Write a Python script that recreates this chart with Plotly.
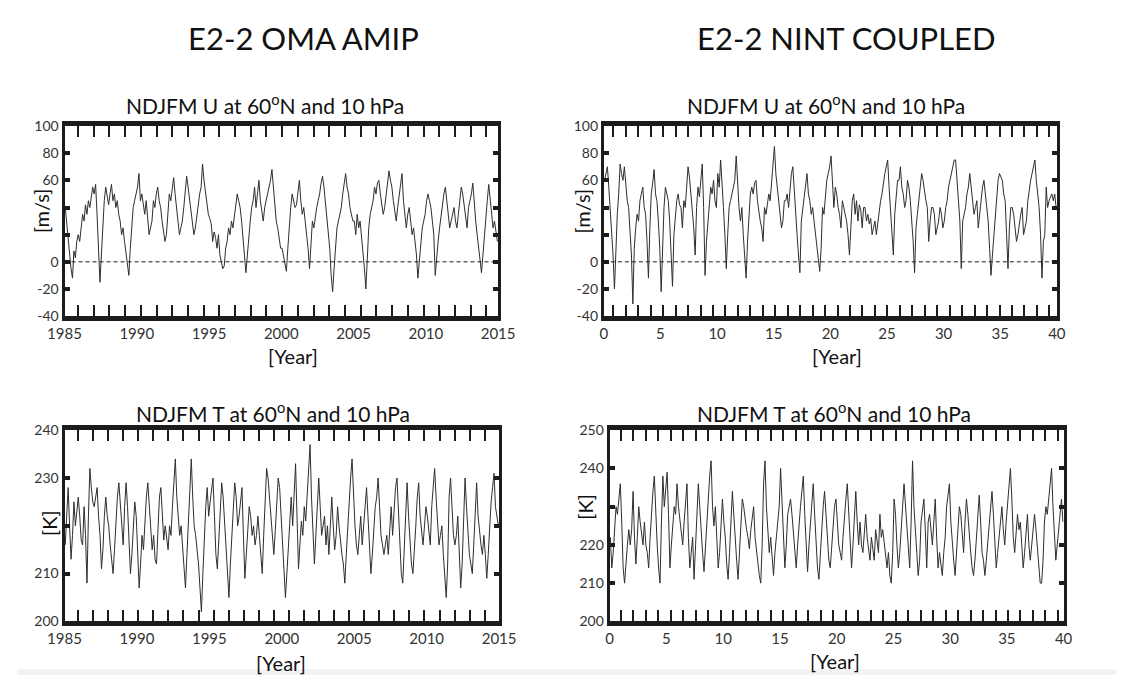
import plotly.graph_objects as go

# ---------------- data ----------------
# AMIP: 30 NDJFM winters 1985-2014, 10 samples per winter
u_amip = [
    40, 28, 15, 2, -5, -12, 8, 3, 15, 20,
    15, 25, 35, 30, 42, 35, 45, 40, 50, 55,
    50, 57, 35, 10, -15, 5, 30, 45, 55, 48,
    42, 50, 57, 45, 50, 40, 45, 35, 30, 20,
    25, 15, 5, -5, -10, 10, 30, 40, 45, 50,
    55, 65, 45, 50, 40, 35, 45, 30, 20, 25,
    30, 45, 40, 50, 55, 45, 40, 30, 20, 15,
    20, 35, 50, 45, 55, 62, 50, 40, 25, 20,
    25, 30, 40, 50, 63, 55, 45, 35, 28, 20,
    25, 35, 40, 50, 55, 72, 60, 50, 40, 35,
    32, 28, 15, 22, 18, 10, 20, 5, 0, -5,
    -3, 10, 15, 25, 20, 30, 25, 35, 45, 50,
    45, 40, 30, 15, 0, -8, 5, 20, 30, 40,
    45, 55, 40, 50, 60, 45, 35, 30, 40, 45,
    50, 55, 60, 68, 55, 45, 30, 25, 15, 10,
    10, 5, -2, -7, 10, 30, 40, 50, 45, 40,
    42, 50, 60, 45, 35, 40, 30, 25, 10, -5,
    15, 30, 25, 35, 40, 45, 50, 58, 63, 55,
    45, 35, 25, 10, -10, -22, -5, 10, 25, 30,
    35, 40, 50, 58, 65, 55, 50, 40, 35, 30,
    30, 20, 35, 25, 30, 20, 10, -5, -20, 10,
    25, 35, 40, 45, 55, 50, 58, 60, 50, 40,
    35, 40, 50, 58, 67, 60, 55, 45, 35, 30,
    40, 50, 60, 65, 45, 35, 25, 35, 40, 30,
    20, 25, 15, 5, -12, 0, 15, 25, 30, 35,
    45, 50, 45, 40, 30, 20, -10, 5, 15, 25,
    35, 40, 50, 55, 45, 35, 25, 30, 35, 40,
    30, 25, 35, 45, 55, 50, 40, 30, 25, 40,
    45, 50, 58, 40, 30, 20, 10, 0, -8, 5,
    20, 35, 45, 57, 45, 35, 25, 30, 20, 15,
]
t_amip = [
    216, 222, 228, 220, 213, 218, 225, 220, 223, 226,
    222, 217, 216, 224, 218, 208, 222, 232, 228, 225,
    224, 226, 228, 222, 218, 211, 215, 222, 226, 222,
    220, 216, 213, 210, 215, 222, 226, 229, 225, 220,
    216, 224, 229, 224, 215, 210, 214, 220, 225, 222,
    214, 207, 212, 218, 215, 222, 226, 229, 224, 218,
    215, 218, 213, 212, 218, 226, 228, 222, 217, 220,
    218, 215, 220, 218, 224, 230, 234, 226, 222, 218,
    220, 216, 210, 207, 214, 220, 228, 234, 226, 220,
    218, 215, 212, 207, 202, 210, 218, 224, 228, 222,
    225, 228, 230, 222, 214, 211, 218, 224, 229, 226,
    220, 214, 210, 205, 212, 218, 224, 229, 226, 220,
    222, 226, 228, 218, 209, 214, 220, 224, 222, 218,
    220, 216, 218, 222, 218, 214, 210, 218, 226, 232,
    230, 226, 220, 216, 214, 219, 224, 230, 228, 222,
    216, 210, 205, 210, 216, 222, 226, 220, 228, 233,
    222, 211, 216, 221, 218, 224, 221, 226, 230, 237,
    226, 218, 212, 218, 224, 230, 224, 218, 220, 222,
    216, 220, 214, 222, 226, 220, 215, 218, 224, 220,
    216, 214, 212, 208, 214, 220, 226, 230, 234, 226,
    220, 216, 214, 218, 222, 216, 220, 224, 228, 222,
    214, 210, 214, 220, 224, 226, 230, 224, 218, 216,
    214, 216, 218, 214, 220, 224, 218, 224, 228, 230,
    224, 216, 210, 208, 216, 224, 229, 222, 216, 212,
    210, 214, 220, 226, 229, 222, 218, 216, 220, 224,
    222, 218, 216, 224, 228, 232, 226, 220, 216, 218,
    220, 214, 209, 205, 212, 226, 230, 224, 218, 216,
    218, 222, 214, 207, 212, 220, 230, 224, 218, 214,
    212, 210, 216, 224, 229, 222, 218, 216, 214, 218,
    214, 209, 214, 220, 225, 228, 231, 224, 222, 220,
]
# NINT coupled: 40 model winters, 8 samples per winter
u_nint = [
    60, 65, 70, 55, 40, 25, 5, -20,
    15, 35, 50, 72, 65, 60, 70, 55,
    45, 40, 25, 5, -31, 10, 25, 35,
    30, 45, 50, 55, 40, 35, 15, -12,
    25, 50, 58, 68, 50, 45, 30, 10,
    -22, 20, 40, 55, 50, 45, 30, 0,
    -18, 20, 35, 45, 50, 42, 40, 25,
    45, 40, 55, 70, 62, 50, 35, 25,
    5, 40, 55, 48, 60, 72, 40, -10,
    15, 30, 45, 55, 50, 60, 45, 40,
    65, 55, 75, 60, 40, 20, -5, 20,
    40, 45, 50, 55, 60, 78, 55, 40,
    30, 40, 20, 5, -12, 15, 30, 50,
    55, 50, 58, 60, 45, 35, 30, 25,
    15, 40, 35, 42, 50, 45, 60, 70,
    85, 65, 55, 40, 35, 25, 30, 45,
    45, 50, 40, 55, 65, 70, 50, 40,
    20, 5, -8, 30, 40, 50, 55, 65,
    50, 45, 35, 40, 30, 20, 15, 5,
    -7, 10, 40, 35, 50, 60, 65, 70,
    78, 60, 40, 55, 50, 40, 35, 25,
    45, 40, 35, 30, 20, 5, 25, 45,
    50, 35, 45, 30, 42, 38, 25, 40,
    40, 30, 35, 28, 32, 20, 25, 30,
    20, 30, 35, 45, 50, 60, 65, 70,
    75, 55, 40, 25, 5, 35, 50, 60,
    60, 70, 55, 50, 40, 45, 60, 55,
    45, 30, 15, -8, 25, 35, 45, 60,
    65, 60, 50, 45, 40, 15, 30, 40,
    40, 35, 20, 25, 30, 40, 35, 25,
    30, 40, 45, 55, 60, 65, 70, 75,
    75, 60, 45, 30, -5, 30, 35, 40,
    50, 55, 65, 55, 45, 35, 40, 45,
    25, 35, 50, 55, 60, 50, 40, 30,
    10, -10, 5, 20, 35, 50, 60, 65,
    62, 60, 50, 45, 20, -5, 25, 40,
    40, 35, 25, 15, 20, 30, 35, 40,
    20, 25, 30, 45, 55, 60, 65, 70,
    75, 60, 50, 40, 20, -12, 15, 20,
    55, 40, 45, 48, 50, 45, 50, 40,
]
t_nint = [
    222, 214, 218, 226, 230, 228, 232, 236,
    226, 214, 210, 216, 220, 224, 220, 224,
    234, 222, 215, 222, 230, 226, 222, 220,
    226, 220, 218, 214, 222, 230, 234, 238,
    228, 220, 214, 210, 226, 238, 230, 234,
    239, 228, 214, 220, 225, 230, 228, 236,
    230, 226, 222, 220, 226, 232, 236, 222,
    214, 218, 222, 211, 220, 228, 236, 230,
    223, 218, 213, 220, 225, 232, 238, 242,
    230, 225, 230, 222, 214, 218, 226, 232,
    226, 222, 215, 211, 218, 226, 234, 228,
    220, 216, 211, 218, 225, 232, 230, 226,
    224, 222, 219, 224, 228, 230, 222, 218,
    214, 212, 210, 220, 236, 242, 230, 222,
    218, 222, 216, 212, 218, 222, 226, 230,
    240, 230, 222, 214, 220, 228, 230, 232,
    228, 224, 220, 214, 220, 226, 230, 234,
    238, 228, 220, 213, 220, 226, 232, 236,
    228, 220, 214, 211, 218, 226, 230, 234,
    228, 224, 216, 214, 220, 226, 230, 232,
    224, 220, 218, 216, 222, 228, 232, 236,
    228, 222, 214, 220, 228, 234, 226, 220,
    226, 220, 218, 224, 228, 222, 218, 216,
    222, 219, 216, 224, 220, 218, 228, 222,
    224, 220, 216, 214, 218, 212, 210, 218,
    232, 228, 220, 214, 218, 226, 230, 236,
    230, 224, 220, 214, 226, 242, 230, 222,
    218, 212, 216, 226, 230, 232, 224, 214,
    226, 228, 224, 220, 226, 232, 222, 214,
    218, 214, 212, 218, 222, 230, 234, 236,
    226, 220, 216, 212, 218, 224, 230, 228,
    224, 218, 226, 232, 228, 222, 218, 214,
    212, 216, 222, 228, 233, 226, 218, 216,
    212, 216, 220, 226, 230, 234, 228, 222,
    214, 218, 222, 226, 230, 224, 220, 226,
    230, 236, 240, 232, 222, 218, 224, 228,
    224, 226, 220, 214, 218, 222, 228, 220,
    216, 220, 224, 228, 224, 220, 214, 210,
    210, 216, 226, 230, 228, 232, 236, 240,
    230, 222, 216, 220, 224, 228, 232, 226,
]

amip_start, amip_end = 1985, 2015
nint_start, nint_end = 0, 40
amip_per_year = 10
nint_per_year = 8

amip_xlabels = [1985, 1990, 1995, 2000, 2005, 2010, 2015]
nint_xlabels = [0, 5, 10, 15, 20, 25, 30, 35, 40]
# y tick marks, and the subset of them that carries a printed label
u_marks = [-40, -20, 0, 20, 40, 60, 80, 100]
u_labels = [-40, -20, 0, 60, 80, 100]
t_amip_marks = [200, 210, 220, 230, 240]
t_amip_labels = [200, 210, 230, 240]
t_nint_marks = [200, 210, 220, 230, 240, 250]
t_nint_labels = [200, 210, 220, 240, 250]

# ---------------- figure ----------------
W, H = 1133, 683
FONT = "Lato, 'Open Sans', sans-serif"
INK = "#1c1c1c"


def px_x(p):
    return p / W


def px_y(p):
    return 1 - p / H


def times(start, n, per_year):
    return [start + (i + 0.5) / per_year for i in range(n)]


fig = go.Figure()
series = [
    (u_amip, amip_start, amip_per_year, "x", "y"),
    (u_nint, nint_start, nint_per_year, "x2", "y2"),
    (t_amip, amip_start, amip_per_year, "x3", "y3"),
    (t_nint, nint_start, nint_per_year, "x4", "y4"),
]
for vals, start, per, xa, ya in series:
    fig.add_trace(go.Scatter(
        x=times(start, len(vals), per), y=vals, mode="lines",
        line=dict(color="#2e2e2e", width=1.0), xaxis=xa, yaxis=ya,
        showlegend=False, hoverinfo="skip"))


def deco_ticks(lo, hi, first_frac, step, count):
    span = hi - lo
    return [lo + first_frac * span + k * step for k in range(count)]


def xaxis(dom, rng, labels, deco, anchor):
    return dict(
        domain=dom, range=rng, anchor=anchor,
        showline=True, linewidth=5, linecolor=INK, mirror="ticks",
        ticks="", tickmode="array", tickvals=labels,
        ticktext=[str(v) for v in labels],
        tickfont=dict(family=FONT, size=15, color="#333"),
        showgrid=False, zeroline=False,
        minor=dict(tickmode="array", tickvals=deco, ticks="inside",
                   ticklen=11, tickwidth=2, tickcolor=INK, showgrid=False),
    )


def yaxis(dom, rng, labels, marks, anchor):
    return dict(
        domain=dom, range=rng, anchor=anchor,
        showline=True, linewidth=3, linecolor=INK, mirror="ticks",
        ticks="inside", ticklen=5, tickwidth=4, tickcolor=INK,
        tickmode="array", tickvals=labels,
        ticktext=[str(v) for v in labels],
        tickfont=dict(family=FONT, size=14, color="#333"),
        showgrid=False, zeroline=False,
        minor=dict(tickmode="array", tickvals=marks, ticks="inside",
                   ticklen=5, tickwidth=4, tickcolor=INK, showgrid=False),
    )


top_dom = [px_y(315), px_y(120)]
bot_dom = [px_y(628), px_y(432)]

fig.update_layout(
    width=W, height=H, margin=dict(l=0, r=0, t=0, b=0),
    paper_bgcolor="white", plot_bgcolor="white",
    xaxis=xaxis([px_x(49), px_x(496)], [amip_start, amip_end], amip_xlabels,
                deco_ticks(amip_start, amip_end, 0.031, 1.087, 27), "y"),
    yaxis=yaxis(top_dom, [-40, 100], u_labels, u_marks, "x"),
    xaxis2=xaxis([px_x(605), px_x(1072)], [nint_start, nint_end], nint_xlabels,
                 deco_ticks(nint_start, nint_end, 0.021, 1.1, 36), "y2"),
    yaxis2=yaxis(top_dom, [-40, 100], u_labels, u_marks, "x2"),
    xaxis3=xaxis([px_x(49), px_x(497)], [amip_start, amip_end], amip_xlabels,
                 deco_ticks(amip_start, amip_end, 0.031, 1.04, 28), "y3"),
    yaxis3=yaxis(bot_dom, [200, 240], t_amip_labels, t_amip_marks, "x3"),
    xaxis4=xaxis([px_x(611), px_x(1079)], [nint_start, nint_end], nint_xlabels,
                 deco_ticks(nint_start, nint_end, 0.025, 1.1, 36), "y4"),
    yaxis4=yaxis(bot_dom, [200, 250], t_nint_labels, t_nint_marks, "x4"),
)

# dashed zero lines in the wind panels
for xa, ya, lo, hi in [("x", "y", amip_start, amip_end), ("x2", "y2", nint_start, nint_end)]:
    fig.add_shape(type="line", xref=xa, yref=ya, x0=lo, x1=hi, y0=0, y1=0,
                  line=dict(color=INK, width=1, dash="4px,3px"), layer="above")

# faint grey strip along the bottom edge
fig.add_shape(type="rect", xref="paper", yref="paper", x0=0, x1=1, y0=0,
              y1=px_y(677), fillcolor="#f2f2f2", line=dict(width=0), layer="below")


def text(s, x, y, size, angle=0):
    fig.add_annotation(text=s, x=px_x(x), y=px_y(y), xref="paper", yref="paper",
                       showarrow=False, xanchor="center", yanchor="middle",
                       textangle=angle, font=dict(family=FONT, size=size, color="#111"))


text("E2-2 OMA AMIP", 295, 30, 31)
text("E2-2 NINT COUPLED", 855, 30, 31)
text("NDJFM U at 60<sup>o</sup>N and 10 hPa", 256, 97, 21)
text("NDJFM U at 60<sup>o</sup>N and 10 hPa", 834, 97, 21)
text("NDJFM T at 60<sup>o</sup>N and 10 hPa", 264, 413, 21)
text("NDJFM T at 60<sup>o</sup>N and 10 hPa", 842, 413, 21)
text("[Year]", 285, 356, 20)
text("[Year]", 845, 356, 20)
text("[Year]", 272, 671, 20)
text("[Year]", 843, 669, 20)
text("[m/s]", 25, 207, 20, -90)
text("[m/s]", 582, 207, 20, -90)
text("[K]", 33, 527, 20, -90)
text("[K]", 586, 510, 20, -90)

fig.write_html("out.html")
